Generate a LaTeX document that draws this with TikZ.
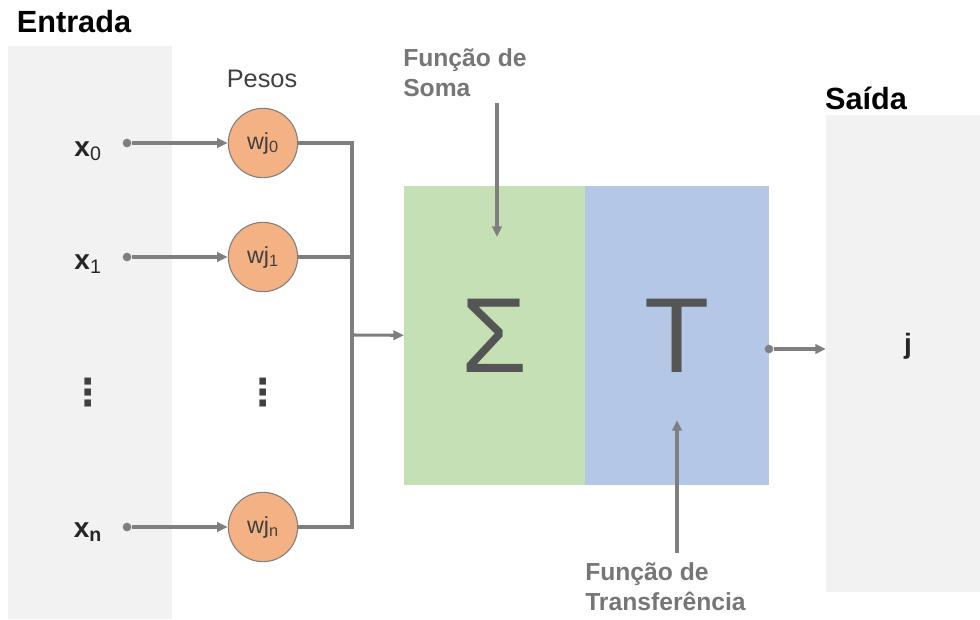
\documentclass[tikz,border=0pt]{standalone}
\usepackage{fontspec}
\setmainfont{Liberation Sans}
\newfontfamily\symfont{DejaVu Sans}
\usetikzlibrary{arrows.meta}

\definecolor{panelgray}{HTML}{F2F2F2}
\definecolor{pesofill}{HTML}{F4B183}
\definecolor{somafill}{HTML}{C5E0B4}
\definecolor{transffill}{HTML}{B4C7E7}
\definecolor{wiregray}{HTML}{7F7F7F}
\definecolor{labelgray}{HTML}{767676}
\definecolor{symbolgray}{HTML}{555555}
\definecolor{inkgray}{HTML}{404040}

\tikzset{
  panel/.style={fill=panelgray, inner sep=0pt, anchor=north west},
  block/.style={inner sep=0pt, anchor=north west, minimum height=224.25pt,
                text=symbolgray, font=\fontsize{80}{80}\selectfont},
  peso/.style={circle, draw=wiregray, line width=0.8pt, fill=pesofill,
               minimum size=52pt, inner sep=0pt, text=inkgray,
               font=\fontsize{17.5}{20}\selectfont},
  entry/.style={font=\fontsize{21}{24}\selectfont\bfseries, text=black!85},
  vdotsnode/.style={font=\symfont\fontsize{28}{30}\selectfont\bfseries, text=inkgray},
  heading/.style={font=\fontsize{23}{26}\selectfont\bfseries},
  note/.style={align=left, anchor=west, inner sep=0pt, text=labelgray,
               font=\fontsize{18.5}{22.5}\selectfont\bfseries},
  dot/.style={circle, fill=wiregray, inner sep=0pt, minimum size=6.5pt},
  wire/.style={draw=wiregray, line width=2.3pt},
  arr/.style={wire, -{Triangle[length=8pt,width=7pt]}},
}

\begin{document}
\begin{tikzpicture}[x=0.75pt, y=-0.75pt]
\useasboundingbox (0,0) rectangle (980,619);

% fundos
\node[panel, minimum width=123pt, minimum height=429.75pt] (entbox) at (8,46) {};
\node[panel, minimum width=115.5pt, minimum height=357.75pt] (saibox) at (826,115) {};
\node[heading] (entrada) at (74,22) {Entrada};
\node[heading] (saida) at (866,98) {Saída};

% entradas
\node[entry] (x0) at (88,151) {x\textsubscript{\mdseries 0}};
\node[entry] (x1) at (88,264) {x\textsubscript{\mdseries 1}};
\node[vdotsnode] (xd) at (88,393) {⋮};
\node[entry] (xn) at (88,532) {x\textsubscript{n}};

\node[dot] (in0) at (127,143) {};
\node[dot] (in1) at (127,257) {};
\node[dot] (inn) at (127,527) {};

% pesos
\node[font=\fontsize{19}{22}\selectfont, text=inkgray] (pesos) at (262,79) {Pesos};
\node[peso] (w0) at (263,143) {wj\textsubscript{0}};
\node[peso] (w1) at (263,257) {wj\textsubscript{1}};
\node[vdotsnode] (wd) at (263,393) {⋮};
\node[peso] (wn) at (263,527) {wj\textsubscript{n}};

\draw[arr] (in0) -- (w0);
\draw[arr] (in1) -- (w1);
\draw[arr] (inn) -- (wn);

% soma e transferencia
\node[block, fill=somafill, minimum width=135.75pt] (soma) at (404,186) {Σ};
\node[block, fill=transffill, minimum width=138pt] (transf) at (585,186) {T};

\coordinate (bus) at (352,335);
\draw[wire] (w0) -| (bus);
\draw[wire] (w1) -| (bus);
\draw[wire] (wn) -| (bus);
\draw[arr] (bus) -- (soma);

% saida
\node[dot] (out) at (769,349) {};
\draw[arr] (out) -- (saibox.west |- out);
\node[entry] (j) at (908,346) {j};

% rotulos
\node[note] (somalbl) at (403,73) {Função de\\Soma};
\coordinate (somatop) at (497,103);
\coordinate (somatip) at (497,237);
\draw[arr] (somatop) -- (somatip);

\node[note] (transflbl) at (585,587) {Função de\\Transferência};
\coordinate (transfbot) at (677,553);
\coordinate (transftip) at (677,420);
\draw[arr] (transfbot) -- (transftip);
\end{tikzpicture}
\end{document}
